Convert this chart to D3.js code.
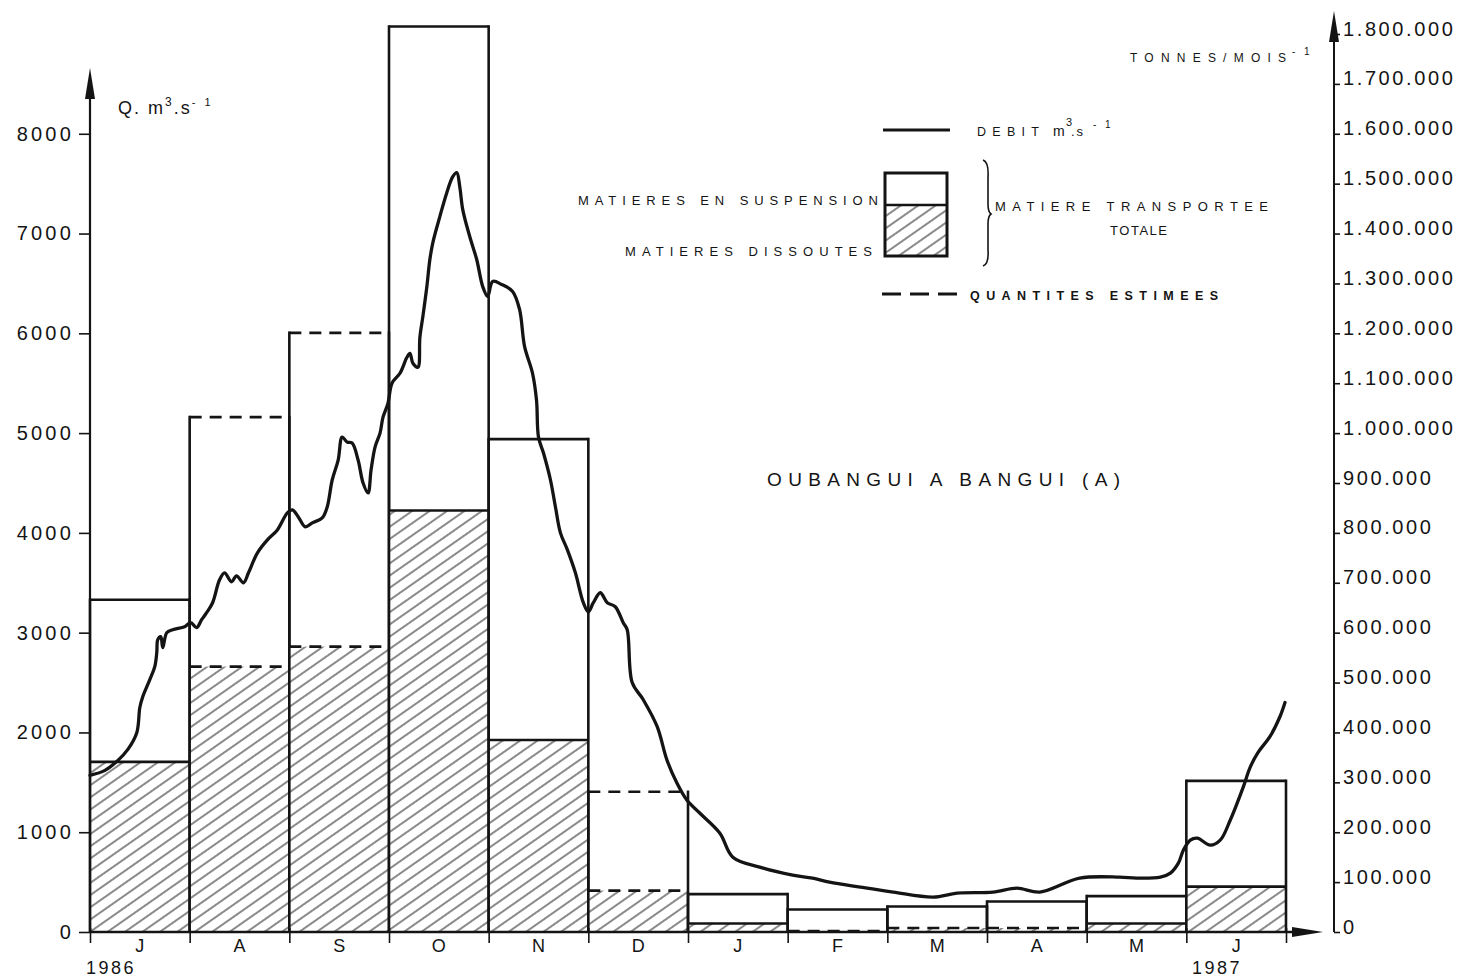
<!DOCTYPE html>
<html>
<head>
<meta charset="utf-8">
<script src="https://cdn.jsdelivr.net/npm/d3@7"></script>
<style>
  html, body { margin: 0; padding: 0; background: #fff; }
  svg { display: block; }
  text { font-family: "Liberation Sans", Arial, Helvetica, sans-serif; fill: #141414; }
</style>
</head>
<body>
<svg id="chart" width="1465" height="978"></svg>
<script>
// Monthly transport (tonnes per month), July 1986 to June 1987
const monthLabels = ["J", "A", "S", "O", "N", "D", "J", "F", "M", "A", "M", "J"];
const totalTonnes = [666000, 1032000, 1201000, 1815000, 988000, 281000, 76000, 45000, 51000, 61000, 72000, 303000];
const dissolvedTonnes = [341000, 532000, 572000, 845000, 385000, 83000, 17000, 2000, 8000, 8000, 17000, 91000];
const totalEstimated = [false, true, true, false, false, true, false, false, false, false, false, false];
const dissolvedEstimated = [false, true, true, false, false, true, false, true, true, true, false, false];

// Discharge (m3/s), position given in months elapsed since 1 July 1986
const debitMonth = [0.00, 0.15, 0.28, 0.38, 0.47, 0.50, 0.53, 0.60, 0.65, 0.67, 0.68, 0.71, 0.73, 0.77, 0.83, 0.95,
  1.01, 1.07, 1.12, 1.17, 1.23, 1.30, 1.35, 1.42, 1.47, 1.54, 1.59, 1.68, 1.78, 1.88, 1.98,
  2.03, 2.09, 2.16, 2.23, 2.33, 2.38, 2.43, 2.49, 2.53, 2.58, 2.63, 2.69, 2.74, 2.79, 2.82, 2.86, 2.91, 2.94, 2.99,
  3.03, 3.11, 3.18, 3.21, 3.24, 3.29, 3.31, 3.34, 3.38, 3.41, 3.44, 3.51, 3.58, 3.64, 3.68, 3.71, 3.74, 3.81, 3.88, 3.94, 3.99,
  4.04, 4.13, 4.24, 4.31, 4.36, 4.44, 4.48, 4.50, 4.55, 4.62, 4.67, 4.72, 4.79, 4.87, 4.95,
  5.00, 5.05, 5.12, 5.19, 5.27, 5.35, 5.39, 5.44, 5.55, 5.69, 5.79, 5.89, 5.99,
  6.12, 6.32, 6.45, 6.72, 7.05, 7.25, 7.42, 7.73, 8.06, 8.46, 8.70, 9.06, 9.30, 9.53, 9.93,
  10.33, 10.50, 10.74, 10.84, 10.92, 10.97, 11.04, 11.11, 11.24, 11.34, 11.44, 11.57, 11.64, 11.72, 11.84, 11.94, 11.99];
const debitQ = [1570, 1620, 1720, 1830, 2000, 2250, 2360, 2530, 2660, 2800, 2930, 2960, 2850, 3000, 3030, 3060,
  3100, 3050, 3130, 3200, 3300, 3530, 3600, 3510, 3570, 3500, 3600, 3800, 3930, 4030, 4200,
  4230, 4160, 4060, 4100, 4150, 4260, 4530, 4730, 4960, 4910, 4900, 4730, 4500, 4400, 4630, 4860, 5000, 5160, 5300,
  5500, 5600, 5760, 5800, 5700, 5660, 5960, 6170, 6470, 6740, 6910, 7170, 7410, 7570, 7610, 7470, 7240, 6970, 6740, 6470, 6370,
  6520, 6490, 6420, 6240, 5870, 5600, 5330, 4960, 4800, 4530, 4260, 4000, 3830, 3600, 3300,
  3210, 3300, 3400, 3300, 3260, 3100, 3030, 2500, 2330, 2060, 1720, 1490, 1320,
  1190, 990, 750, 650, 570, 540, 500, 450, 400, 350, 390, 400, 440, 400, 540,
  550, 540, 550, 590, 690, 820, 920, 940, 870, 920, 1120, 1450, 1650, 1800, 1960, 2160, 2300];

const leftTicks = [0, 1000, 2000, 3000, 4000, 5000, 6000, 7000, 8000];
const rightTicks = [0, 100000, 200000, 300000, 400000, 500000, 600000, 700000, 800000, 900000,
  1000000, 1100000, 1200000, 1300000, 1400000, 1500000, 1600000, 1700000, 1800000];
const yearLabels = ["1986", "1987"];

const INK = "#141414";
const svg = d3.select("#chart");
svg.append("rect").attr("width", 1465).attr("height", 978).attr("fill", "#fff");

// Scales: months are drawn with equal widths; 1 m3/s corresponds to 200 t/month
const x = d3.scaleLinear().domain([0, 12]).range([90, 1286]);
const yQ = d3.scaleLinear().domain([0, 9000]).range([932, 34]);
const yT = d3.scaleLinear().domain([0, 1800000]).range([932, 34]);

// Diagonal hatch for dissolved matter
const defs = svg.append("defs");
const pat = defs.append("pattern").attr("id", "hatch")
  .attr("patternUnits", "userSpaceOnUse").attr("width", 10).attr("height", 10)
  .attr("patternTransform", "rotate(-35)");
pat.append("rect").attr("width", 10).attr("height", 10).attr("fill", "#fff");
pat.append("line").attr("x1", 0).attr("y1", 5).attr("x2", 10).attr("y2", 5)
  .attr("stroke", "#2a2a2a").attr("stroke-width", 1.1);

// Bars
const bars = svg.append("g");
monthLabels.forEach((m, i) => {
  const x0 = x(i), x1 = x(i + 1);
  const g = bars.append("g");
  g.append("rect").attr("x", x0).attr("width", x1 - x0)
    .attr("y", yT(dissolvedTonnes[i])).attr("height", yT(0) - yT(dissolvedTonnes[i]))
    .attr("fill", "url(#hatch)");
  g.append("line").attr("x1", x0).attr("x2", x1)
    .attr("y1", yT(dissolvedTonnes[i])).attr("y2", yT(dissolvedTonnes[i]))
    .attr("stroke", INK).attr("stroke-width", 2.6)
    .attr("stroke-dasharray", dissolvedEstimated[i] ? "12,8" : null);
  g.append("line").attr("x1", x0).attr("x2", x1)
    .attr("y1", yT(totalTonnes[i])).attr("y2", yT(totalTonnes[i]))
    .attr("stroke", INK).attr("stroke-width", 2.6)
    .attr("stroke-dasharray", totalEstimated[i] ? "12,8" : null);
  [x0, x1].forEach(xx => {
    g.append("line").attr("x1", xx).attr("x2", xx)
      .attr("y1", yT(0)).attr("y2", yT(totalTonnes[i]) - 1.3)
      .attr("stroke", INK).attr("stroke-width", 2.6);
  });
});

// Discharge curve
const line = d3.line()
  .x((d, i) => x(debitMonth[i]))
  .y(d => yQ(d))
  .curve(d3.curveCatmullRom.alpha(0.5));
svg.append("path").attr("d", line(debitQ))
  .attr("fill", "none").attr("stroke", INK).attr("stroke-width", 3.3)
  .attr("stroke-linejoin", "round").attr("stroke-linecap", "round");

// Left axis (discharge)
const leftAxis = svg.append("g").attr("transform", `translate(${x(0)},0)`)
  .call(d3.axisLeft(yQ).tickValues(leftTicks).tickSize(11).tickPadding(5).tickFormat(d3.format("d")));
leftAxis.select(".domain").remove();
leftAxis.selectAll(".tick line").attr("stroke", INK).attr("stroke-width", 1.6);
leftAxis.selectAll(".tick text").attr("font-size", 20).attr("letter-spacing", 3.2)
  .attr("fill", INK).attr("font-family", "Liberation Sans, Arial, sans-serif");
svg.append("line").attr("x1", x(0)).attr("x2", x(0)).attr("y1", yQ(0)).attr("y2", 96)
  .attr("stroke", INK).attr("stroke-width", 2.2);
svg.append("path").attr("d", `M${x(0)},68 L${x(0) - 5},99 L${x(0) + 5},99 Z`).attr("fill", INK);

// Right axis (tonnes per month)
const fmtT = d3.formatLocale({ decimal: ",", thousands: ".", grouping: [3], currency: ["", ""] }).format(",d");
const rx = 1334;
const rightAxis = svg.append("g").attr("transform", `translate(${rx},0)`)
  .call(d3.axisRight(yT).tickValues(rightTicks).tickSize(6).tickPadding(3).tickFormat(fmtT));
rightAxis.select(".domain").remove();
rightAxis.selectAll(".tick line").attr("stroke", INK).attr("stroke-width", 1.6);
rightAxis.selectAll(".tick text").attr("font-size", 20).attr("letter-spacing", 2.6)
  .attr("dy", "0.05em").attr("fill", INK).attr("font-family", "Liberation Sans, Arial, sans-serif");
svg.append("line").attr("x1", rx).attr("x2", rx).attr("y1", yT(0)).attr("y2", 38)
  .attr("stroke", INK).attr("stroke-width", 2);
svg.append("path").attr("d", `M${rx},11 L${rx - 5},42 L${rx + 5},42 Z`).attr("fill", INK);

// Time axis
const bottomAxis = svg.append("g").attr("transform", `translate(0,${yQ(0)})`)
  .call(d3.axisBottom(x).tickValues(d3.range(0, 13)).tickSize(11).tickFormat(""));
bottomAxis.select(".domain").remove();
bottomAxis.selectAll(".tick line").attr("stroke", INK).attr("stroke-width", 1.6).attr("y1", -4);
svg.append("line").attr("x1", x(0)).attr("x2", 1300).attr("y1", yQ(0)).attr("y2", yQ(0))
  .attr("stroke", INK).attr("stroke-width", 2.4);
svg.append("path").attr("d", `M1323,${yQ(0)} L1292,${yQ(0) - 5} L1292,${yQ(0) + 5} Z`).attr("fill", INK);

svg.append("g").selectAll("text").data(monthLabels).join("text")
  .attr("x", (d, i) => x(i + 0.5)).attr("y", 952)
  .attr("text-anchor", "middle").attr("font-size", 18).text(d => d);
svg.append("text").attr("x", 86).attr("y", 974).attr("font-size", 18).attr("letter-spacing", 2.5).text(yearLabels[0]);
svg.append("text").attr("x", 1192).attr("y", 974).attr("font-size", 18).attr("letter-spacing", 2.5).text(yearLabels[1]);

// Axis units
const qUnit = svg.append("text").attr("x", 118).attr("y", 114).attr("font-size", 18).attr("letter-spacing", 2);
qUnit.append("tspan").text("Q. m");
qUnit.append("tspan").attr("dy", -8).attr("font-size", 12).text("3");
qUnit.append("tspan").attr("dy", 8).text(".s");
qUnit.append("tspan").attr("dy", -8).attr("font-size", 11).attr("letter-spacing", 3).text("- 1");

svg.append("text").attr("x", 1130).attr("y", 62).attr("font-size", 12)
  .attr("textLength", 156).attr("lengthAdjust", "spacing").text("TONNES/MOIS");
svg.append("text").attr("x", 1292).attr("y", 55).attr("font-size", 10)
  .attr("letter-spacing", 3).text("- 1");

// Title
svg.append("text").attr("x", 767).attr("y", 486).attr("font-size", 19)
  .attr("textLength", 353).attr("lengthAdjust", "spacing").text("OUBANGUI A BANGUI (A)");

// Legend
const lg = svg.append("g");
lg.append("line").attr("x1", 883).attr("x2", 950).attr("y1", 130).attr("y2", 130)
  .attr("stroke", INK).attr("stroke-width", 3.2);
lg.append("text").attr("x", 977).attr("y", 136).attr("font-size", 12.5)
  .attr("textLength", 62).attr("lengthAdjust", "spacing").text("DEBIT");
lg.append("text").attr("x", 1053).attr("y", 136).attr("font-size", 14).text("m");
lg.append("text").attr("x", 1066).attr("y", 126).attr("font-size", 11).text("3");
lg.append("text").attr("x", 1071).attr("y", 136).attr("font-size", 13).attr("letter-spacing", 2).text(".s");
lg.append("text").attr("x", 1093).attr("y", 128).attr("font-size", 10).attr("letter-spacing", 3).text("- 1");

lg.append("rect").attr("x", 885).attr("y", 205).attr("width", 62).attr("height", 51).attr("fill", "url(#hatch)");
lg.append("rect").attr("x", 885).attr("y", 173).attr("width", 62).attr("height", 83)
  .attr("fill", "none").attr("stroke", INK).attr("stroke-width", 3);
lg.append("line").attr("x1", 885).attr("x2", 947).attr("y1", 205).attr("y2", 205)
  .attr("stroke", INK).attr("stroke-width", 2.6);

lg.append("text").attr("x", 578).attr("y", 205).attr("font-size", 13)
  .attr("textLength", 300).attr("lengthAdjust", "spacing").text("MATIERES EN SUSPENSION");
lg.append("text").attr("x", 625).attr("y", 256).attr("font-size", 13)
  .attr("textLength", 247).attr("lengthAdjust", "spacing").text("MATIERES DISSOUTES");

lg.append("path")
  .attr("d", "M983,160 Q989,162 988,178 L988,204 Q988,212 991,214 Q988,216 988,224 L988,250 Q989,264 983,266")
  .attr("fill", "none").attr("stroke", INK).attr("stroke-width", 1.6);
lg.append("text").attr("x", 995).attr("y", 211).attr("font-size", 13)
  .attr("textLength", 273).attr("lengthAdjust", "spacing").text("MATIERE TRANSPORTEE");
lg.append("text").attr("x", 1110).attr("y", 235).attr("font-size", 13)
  .attr("textLength", 57).attr("lengthAdjust", "spacing").text("TOTALE");

lg.append("line").attr("x1", 882).attr("x2", 962).attr("y1", 294).attr("y2", 294)
  .attr("stroke", INK).attr("stroke-width", 3.2).attr("stroke-dasharray", "19,9");
lg.append("text").attr("x", 970).attr("y", 300).attr("font-size", 12.5).attr("font-weight", "bold")
  .attr("textLength", 248).attr("lengthAdjust", "spacing").text("QUANTITES ESTIMEES");
</script>
</body>
</html>
